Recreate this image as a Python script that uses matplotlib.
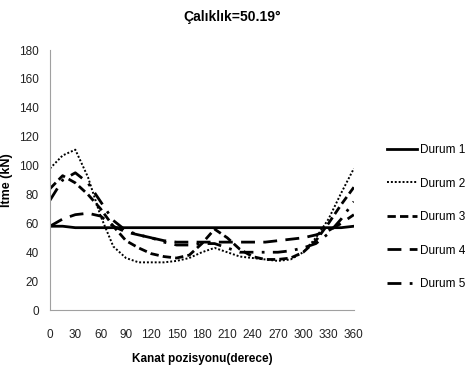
import numpy as np
import matplotlib.pyplot as plt

# Kanat pozisyonu (derece)
aci = [0, 15, 30, 45, 60, 75, 90, 105, 120, 135, 150, 165, 180,
       195, 210, 225, 240, 255, 270, 285, 300, 315, 330, 345, 360]

durum1 = [58, 58, 57, 57, 57, 57, 57, 57, 57, 57, 57, 57, 57,
          57, 57, 57, 57, 57, 57, 57, 57, 57, 57, 57, 58]
durum2 = [98, 107, 111, 92, 65, 44, 36, 33, 33, 33, 34, 36, 40,
          43, 40, 37, 36, 35, 34, 35, 40, 50, 63, 81, 98]
durum3 = [84, 93, 88, 80, 70, 58, 48, 43, 39, 37, 36, 38, 46,
          56, 50, 42, 37, 35, 35, 36, 40, 48, 60, 73, 85]
durum4 = [58, 63, 66, 67, 65, 58, 54, 52, 50, 48, 47, 47, 47,
          47, 47, 47, 47, 47, 48, 49, 50, 52, 55, 60, 66]
durum5 = [76, 90, 95, 88, 75, 62, 55, 52, 50, 47, 45, 45, 46,
          46, 43, 40, 40, 40, 40, 41, 43, 46, 53, 63, 75]

etiketler = ['Durum 1', 'Durum 2', 'Durum 3', 'Durum 4', 'Durum 5']
x_ticks = list(range(0, 361, 30))
y_ticks = list(range(0, 181, 20))

plt.rcParams['font.family'] = ['Liberation Sans', 'DejaVu Sans']

fig = plt.figure(figsize=(4.65, 3.76), dpi=100)
ax = fig.add_axes([0.1075, 0.1755, 0.6535, 0.6915])

ax.plot(aci, durum1, color='black', lw=2.0, linestyle='-', label=etiketler[0])
ax.plot(aci, durum2, color='black', lw=1.4, linestyle=(0, (1, 1)), label=etiketler[1])
ax.plot(aci, durum3, color='black', lw=2.0, linestyle=(0, (3, 1.5)), label=etiketler[2])
ax.plot(aci, durum4, color='black', lw=2.0, linestyle=(0, (5, 3)), label=etiketler[3])
ax.plot(aci, durum5, color='black', lw=2.0, linestyle=(0, (5, 3, 1, 3)), label=etiketler[4])

ax.set_xlim(0, 360)
ax.set_ylim(0, 180)
ax.set_xticks(x_ticks)
ax.set_yticks(y_ticks)
ax.tick_params(axis='both', length=0, labelsize=8.5, colors='#222222')
ax.tick_params(axis='x', pad=14)
ax.tick_params(axis='y', pad=8)

for s in ['top', 'right']:
    ax.spines[s].set_visible(False)
for s in ['left', 'bottom']:
    ax.spines[s].set_color('#a0a0a0')

fig.text(0.5, 0.955, 'Çalıklık=50.19°', fontsize=10, fontweight='bold',
         ha='center', va='center')
ax.set_xlabel('Kanat pozisyonu(derece)', fontsize=8.5, fontweight='bold', labelpad=8)
ax.set_ylabel('İtme (kN)', fontsize=9, fontweight='bold', labelpad=4)

fig.legend(loc='upper left', bbox_to_anchor=(0.81, 0.645), frameon=False,
           fontsize=8.5, handlelength=2.5, handletextpad=0.3, labelspacing=1.82)

plt.savefig('out.png', dpi=100)
